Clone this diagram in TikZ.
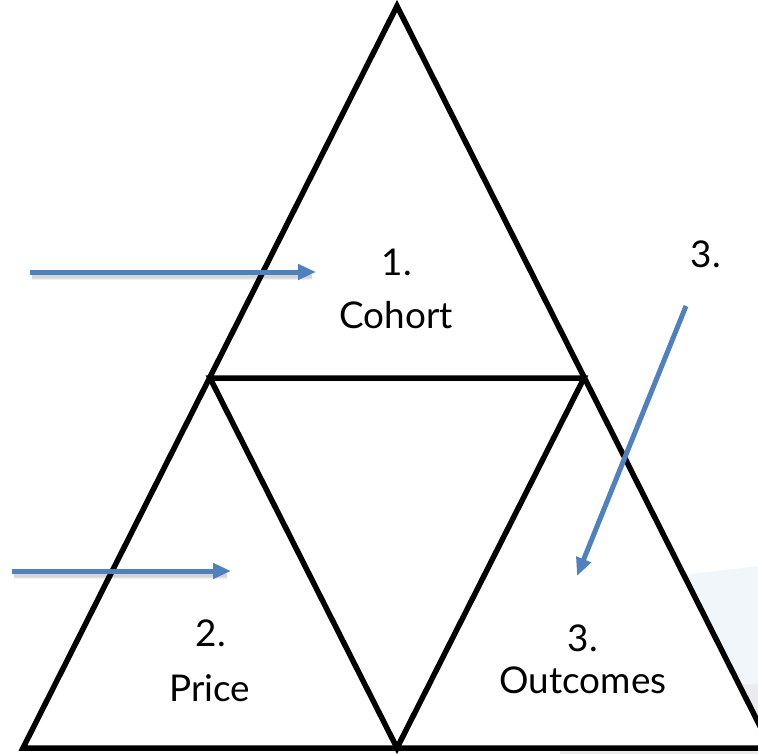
\documentclass[tikz,border=0pt]{standalone}
\usepackage{fontspec}
\setmainfont{Lato}
\usetikzlibrary{arrows.meta}
\definecolor{arrowblue}{HTML}{4F81BD}
\definecolor{bgblue}{HTML}{F1F6FB}
\definecolor{bggrey}{HTML}{EAEAEF}
\begin{document}
\begin{tikzpicture}[x=1bp,y=-1bp,
  edge/.style={line width=5.5bp,black,line join=miter},
  bluearrow/.style={line width=5bp,arrowblue,-{Triangle[length=18bp,width=15bp]}},
  arrowshadow/.style={line width=7bp,black,opacity=0.06,shorten >=6bp},
  lbl/.style={font=\fontsize{37}{44}\selectfont,inner sep=0pt,anchor=center}]
\useasboundingbox (0,0) rectangle (758,754);
\clip (0,0) rectangle (758,754);
% faint background
\fill[bgblue] (560,590) -- (758,566) -- (758,754) -- (560,754) -- cycle;
\fill[bggrey] (560,692) -- (758,684) -- (758,754) -- (560,754) -- cycle;
% triangle points
\coordinate (apex) at (397,6);
\coordinate (bl) at (23,748);
\coordinate (br) at (771,748);
\coordinate (ml) at (210,378);
\coordinate (mr) at (584,378);
\coordinate (mb) at (397,748);
\fill[white] (apex) -- (bl) -- (br) -- cycle;
\draw[edge] (apex) -- (bl) -- (br) -- cycle;
\draw[edge] (ml) -- (mr) -- (mb) -- cycle;
% labels
\node[lbl] (n1) at (397,262) {1.};
\node[lbl] (cohort) at (396,315) {Cohort};
\node[lbl] (n3top) at (706,254) {3.};
\node[lbl] (n2) at (211,633) {2.};
\node[lbl] (price) at (210,688) {Price};
\node[lbl] (n3) at (583,638) {3.};
\node[lbl] (outcomes) at (583,680) {Outcomes};
% arrow endpoints
\coordinate (a1s) at (30,272);
\coordinate (a1e) at (316,272);
\coordinate (a2s) at (12,571);
\coordinate (a2e) at (231,571);
\coordinate (a3s) at (686,306);
\coordinate (a3e) at (577,576);
% soft shadows
\foreach \d in {3,5,7} {
  \draw[arrowshadow,line width=\d bp] ([shift={(2,4)}]a1s) -- ([shift={(2,4)}]a1e);
  \draw[arrowshadow,line width=\d bp] ([shift={(2,4)}]a2s) -- ([shift={(2,4)}]a2e);
}
% arrows
\draw[bluearrow] (a1s) -- (a1e);
\draw[bluearrow] (a2s) -- (a2e);
\draw[bluearrow] (a3s) -- (a3e);
\end{tikzpicture}
\end{document}
